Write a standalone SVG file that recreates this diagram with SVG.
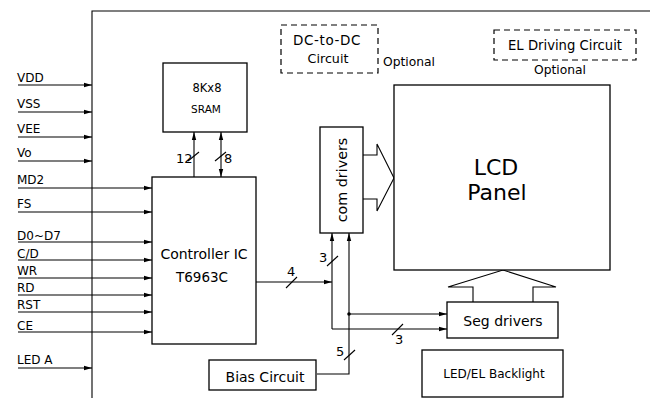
<svg xmlns="http://www.w3.org/2000/svg" width="650" height="398" viewBox="0 0 650 398">
<defs>
<marker id="ah" markerWidth="8" markerHeight="6" refX="8" refY="3" orient="auto" markerUnits="userSpaceOnUse">
<path d="M0,0.8 L8,3 L0,5.2 Z" fill="#000"/>
</marker>
<marker id="ahs" markerWidth="8" markerHeight="6" refX="0" refY="3" orient="auto" markerUnits="userSpaceOnUse">
<path d="M8,0.8 L0,3 L8,5.2 Z" fill="#000"/>
</marker>
</defs>
<style>
text{font-family:"DejaVu Sans","Liberation Sans",sans-serif;fill:#000}
.box{fill:#fff;stroke:#000;stroke-width:1.3}
.dash{fill:none;stroke:#000;stroke-width:1.2;stroke-dasharray:6,4}
.ln{fill:none;stroke:#000;stroke-width:1.1}
.arr{fill:none;stroke:#000;stroke-width:1.1;marker-end:url(#ah)}
.lbl{font-size:12px}
.num{font-size:13px}
.mid{text-anchor:middle}
</style>
<rect width="650" height="398" fill="#fff"/>
<g id="frame">
<path class="ln" d="M92,398 V11 H650" stroke-width="1.3"/>
</g>
<g id="connectors">
<path class="arr" d="M18,85 H92"/>
<path class="arr" d="M18,112 H92"/>
<path class="arr" d="M18,137 H92"/>
<path class="arr" d="M18,161 H92"/>
<path class="arr" d="M18,188 H152"/>
<path class="arr" d="M18,212 H152"/>
<path class="arr" d="M18,242 H152"/>
<path class="arr" d="M18,260 H152"/>
<path class="arr" d="M18,278 H152"/>
<path class="arr" d="M18,295 H152"/>
<path class="arr" d="M18,312 H152"/>
<path class="arr" d="M18,332 H152"/>
<path class="arr" d="M18,368 H92"/>
<path class="arr" d="M194,177 V132"/>
<path class="arr" d="M221,177 V132" style="marker-start:url(#ahs)"/>
<path class="ln" d="M188,161 L199,152"/>
<path class="ln" d="M215,161 L226,152"/>
<path class="arr" d="M256,282 H332"/>
<path class="ln" d="M286,288 L297,277"/>
<path class="arr" d="M332,329 V233"/>
<path class="ln" d="M327,266 L338,256"/>
<path class="arr" d="M332,329 H447"/>
<path class="ln" d="M392,335 L403,324"/>
<path class="arr" d="M317,374 H349 V233"/>
<path class="ln" d="M344,360 L355,350"/>
<circle cx="349" cy="314" r="1.8" fill="#000"/>
<path class="arr" d="M349,314 H447"/>
<path class="ln" d="M363,155 H377 V144 L394,178 L377,211 V199 H363" fill="#fff"/>
<path class="ln" d="M473,302 V287 H448 L503,270 L556,287 H533 V302" fill="#fff"/>
</g>
<g id="sram">
<rect class="box" x="163" y="63" width="84" height="69"/>
<text class="mid" x="207" y="92" font-size="11.5">8Kx8</text>
<text class="mid" x="206" y="113" font-size="10.5">SRAM</text>
</g>
<g id="controller">
<rect class="box" x="152" y="177" width="104" height="167"/>
<text class="mid" x="204" y="259" font-size="14">Controller IC</text>
<text class="mid" x="202" y="282" font-size="13.5">T6963C</text>
</g>
<g id="dcdc">
<rect class="dash" x="281" y="25" width="97" height="48"/>
<text class="mid" x="327" y="45" font-size="13.5" letter-spacing="0.6">DC-to-DC</text>
<text class="mid" x="328" y="63" font-size="12.7">Circuit</text>
<text x="383" y="66" font-size="12.3">Optional</text>
</g>
<g id="eldriving">
<rect class="dash" x="494" y="30" width="142" height="30"/>
<text class="mid" x="565" y="50" font-size="13.2">EL Driving Circuit</text>
<text class="mid" x="560" y="74" font-size="12.3">Optional</text>
</g>
<g id="comdrivers">
<rect class="box" x="320" y="127" width="43" height="106"/>
<text class="mid" font-size="14.3" transform="translate(347,180) rotate(-90)">com drivers</text>
</g>
<g id="lcd">
<rect class="box" x="394" y="85" width="216" height="185"/>
<text class="mid" x="496" y="175" font-size="22">LCD</text>
<text class="mid" x="497" y="200" font-size="22">Panel</text>
</g>
<g id="segdrivers">
<rect class="box" x="447" y="302" width="111" height="36"/>
<text class="mid" x="503" y="326" font-size="14">Seg drivers</text>
</g>
<g id="backlight">
<rect class="box" x="422" y="350" width="141" height="47"/>
<text class="mid" x="494" y="378" font-size="12">LED/EL Backlight</text>
</g>
<g id="bias">
<rect class="box" x="209" y="360" width="107" height="30"/>
<text class="mid" x="265" y="382" font-size="14">Bias Circuit</text>
</g>
<g id="labels">
<text class="lbl" x="17" y="82">VDD</text>
<text class="lbl" x="17" y="108">VSS</text>
<text class="lbl" x="17" y="133">VEE</text>
<text class="lbl" x="17" y="157">Vo</text>
<text class="lbl" x="17" y="184">MD2</text>
<text class="lbl" x="17" y="208">FS</text>
<text class="lbl" x="17" y="240">D0~D7</text>
<text class="lbl" x="17" y="258">C/D</text>
<text class="lbl" x="17" y="275">WR</text>
<text class="lbl" x="17" y="292">RD</text>
<text class="lbl" x="17" y="309">RST</text>
<text class="lbl" x="17" y="330">CE</text>
<text class="lbl" x="17" y="364">LED A</text>
<text class="num" x="176" y="163">12</text>
<text class="num" x="224" y="163">8</text>
<text class="num" x="287" y="276">4</text>
<text class="num" x="319" y="262">3</text>
<text class="num" x="395" y="344">3</text>
<text class="num" x="336" y="356">5</text>
</g>
</svg>
